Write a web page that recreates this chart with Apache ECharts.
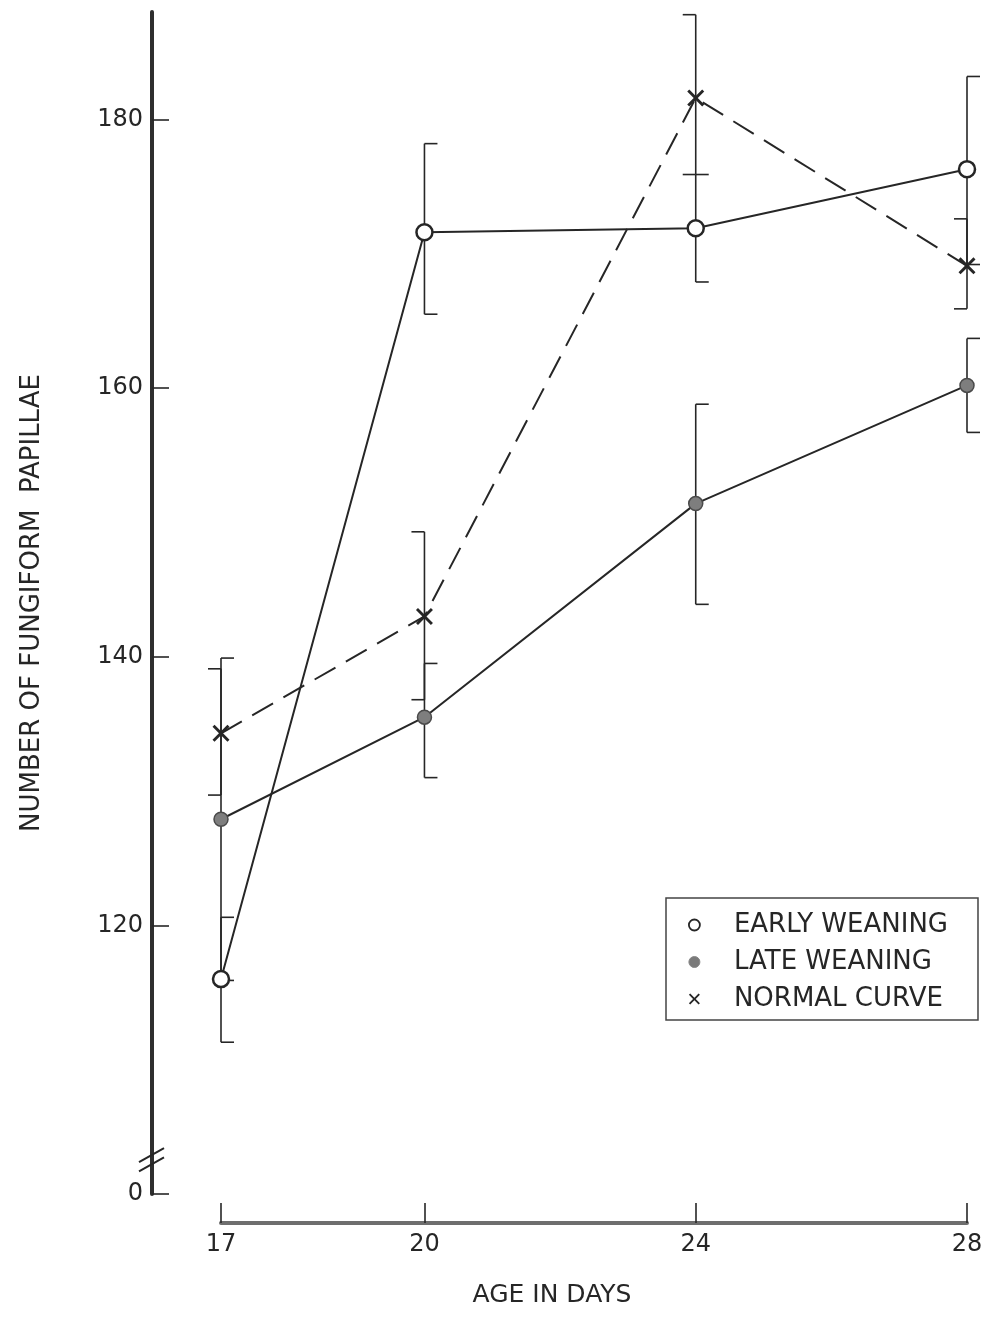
<!DOCTYPE html>
<html>
<head>
<meta charset="utf-8">
<script src="https://cdn.jsdelivr.net/npm/echarts@6/dist/echarts.min.js"></script>
<style>
html,body{margin:0;padding:0;background:#fff;}
#c{width:990px;height:1319px;}
</style>
</head>
<body>
<div id="c"></div>
<script>
// ---- data ----
var days = [17, 20, 24, 28];
var tickDays = [17, 20, 24, 28];
var yTicks = [100, 120, 140, 160, 180];

var earlyMean = [116.0, 171.6, 171.9, 176.3];
var earlyLow  = [111.3, 165.5, 167.9, 169.2];
var earlyHigh = [120.6, 178.2, 175.9, 183.2];

var lateMean = [127.9, 135.5, 151.4, 160.2];
var lateLow  = [115.9, 131.0, 143.9, 156.7];
var lateHigh = [139.9, 139.5, 158.8, 163.7];

var normalMean = [134.3, 143.0, 181.6, 169.1];
var normalLow  = [129.7, 136.8, 175.9, 165.9];
var normalHigh = [139.1, 149.3, 187.8, 172.6];

var seriesNames = ['EARLY WEANING', 'LATE WEANING', 'NORMAL CURVE'];
var xName = 'AGE IN DAYS';
var yName = 'NUMBER OF FUNGIFORM  PAPILLAE';

// ---- helpers ----
var INK = '#262626';
var XPATH = 'path://M0,1.2L1.2,0L5,3.8L8.8,0L10,1.2L6.2,5L10,8.8L8.8,10L5,6.2L1.2,10L0,8.8L3.8,5Z';

function pairs(xs, ys) { return xs.map(function (x, i) { return [x, ys[i]]; }); }
function triples(xs, lo, hi) { return xs.map(function (x, i) { return [x, lo[i], hi[i]]; }); }

function errRender(side) {
  return function (params, api) {
    var lo = api.coord([api.value(0), api.value(1)]);
    var hi = api.coord([api.value(0), api.value(2)]);
    var c = 13 * side;
    var st = { stroke: INK, lineWidth: 1.6 };
    return {
      type: 'group',
      children: [
        { type: 'line', shape: { x1: lo[0], y1: lo[1], x2: hi[0], y2: hi[1] }, style: st },
        { type: 'line', shape: { x1: lo[0], y1: lo[1], x2: lo[0] + c, y2: lo[1] }, style: st },
        { type: 'line', shape: { x1: hi[0], y1: hi[1], x2: hi[0] + c, y2: hi[1] }, style: st }
      ]
    };
  };
}

var FONT = 'DejaVu Sans';
var chart = echarts.init(document.getElementById('c'), null, { renderer: 'canvas' });

var option = {
  backgroundColor: '#ffffff',
  animation: false,
  textStyle: { fontFamily: FONT, color: INK },
  grid: { left: 221, right: 23, top: 12, bottom: 125 },
  xAxis: {
    type: 'value',
    min: 17, max: 28,
    offset: 29,
    splitLine: { show: false },
    axisLine: { show: true, lineStyle: { color: '#6e6e6e', width: 4 } },
    axisTick: { show: true, inside: true, length: 20, customValues: tickDays, lineStyle: { color: INK, width: 1.6 } },
    axisLabel: { customValues: tickDays, margin: 10, fontSize: 24, color: INK, fontFamily: FONT },
    name: xName,
    nameLocation: 'middle',
    nameGap: 60,
    nameTextStyle: { fontSize: 25, color: INK, fontFamily: FONT, padding: [0, 84, 0, 0] }
  },
  yAxis: {
    type: 'value',
    min: 100, max: 188,
    offset: 69,
    splitLine: { show: false },
    axisLine: { show: true, lineStyle: { color: '#2e2e2e', width: 4 } },
    axisTick: { show: true, inside: true, length: 17, customValues: yTicks, lineStyle: { color: INK, width: 1.6 } },
    axisLabel: {
      customValues: yTicks, margin: 9, fontSize: 24, color: INK, fontFamily: FONT,
      formatter: function (v) { return v === 100 ? '0' : String(v); }
    },
    name: yName,
    nameLocation: 'middle',
    nameRotate: 90,
    nameGap: 107,
    nameTextStyle: { fontSize: 26, color: INK, fontFamily: FONT }
  },
  legend: {
    orient: 'vertical',
    left: 666, top: 898,
    padding: [14, 30, 8, 22],
    itemGap: 11,
    itemWidth: 11, itemHeight: 11,
    borderColor: '#444', borderWidth: 1.5, borderRadius: 0,
    backgroundColor: '#fff',
    selectedMode: false,
    textStyle: { fontSize: 26, color: INK, fontFamily: FONT, padding: [0, 0, 0, 29], lineHeight: 25 },
    data: [
      { name: seriesNames[0], icon: 'circle', itemStyle: { color: '#fff', borderColor: INK, borderWidth: 1.8 } },
      { name: seriesNames[1], icon: 'circle', itemStyle: { color: '#7a7a7a', borderColor: '#888', borderWidth: 1 } },
      { name: seriesNames[2], icon: XPATH, itemStyle: { color: INK, borderWidth: 0 } }
    ]
  },
  series: [
    { type: 'custom', renderItem: errRender(1), data: triples(days, earlyLow, earlyHigh), z: 1, silent: true },
    { type: 'custom', renderItem: errRender(1), data: triples(days, lateLow, lateHigh), z: 1, silent: true },
    { type: 'custom', renderItem: errRender(-1), data: triples(days, normalLow, normalHigh), z: 1, silent: true },
    {
      name: seriesNames[0], type: 'line', data: pairs(days, earlyMean), z: 3,
      symbol: 'circle', symbolSize: 16,
      lineStyle: { color: INK, width: 2 },
      itemStyle: { color: '#fff', borderColor: INK, borderWidth: 2.5 }
    },
    {
      name: seriesNames[1], type: 'line', data: pairs(days, lateMean), z: 3,
      symbol: 'circle', symbolSize: 14,
      lineStyle: { color: INK, width: 2 },
      itemStyle: { color: '#7e7e7e', borderColor: '#4a4a4a', borderWidth: 1.5 }
    },
    {
      name: seriesNames[2], type: 'line', data: pairs(days, normalMean), z: 3,
      symbol: XPATH, symbolSize: 17,
      lineStyle: { color: INK, width: 2, type: [24, 12] },
      itemStyle: { color: INK, borderWidth: 0 }
    }
  ]
};
chart.setOption(option);

// axis-break marks on the y axis, placed from the axis scale
var base = chart.convertToPixel({ gridIndex: 0 }, [17, 100]);
var axisX = base[0] - 69;
var yA = chart.convertToPixel({ yAxisIndex: 0 }, 102.9);
var yB = chart.convertToPixel({ yAxisIndex: 0 }, 102.2);
function slash(cy) {
  return { type: 'line', z: 10, shape: { x1: axisX - 13, y1: cy + 7, x2: axisX + 12, y2: cy - 7 }, style: { stroke: INK, lineWidth: 2 } };
}
chart.setOption({ graphic: [slash(yA), slash(yB)] });
</script>
</body>
</html>
